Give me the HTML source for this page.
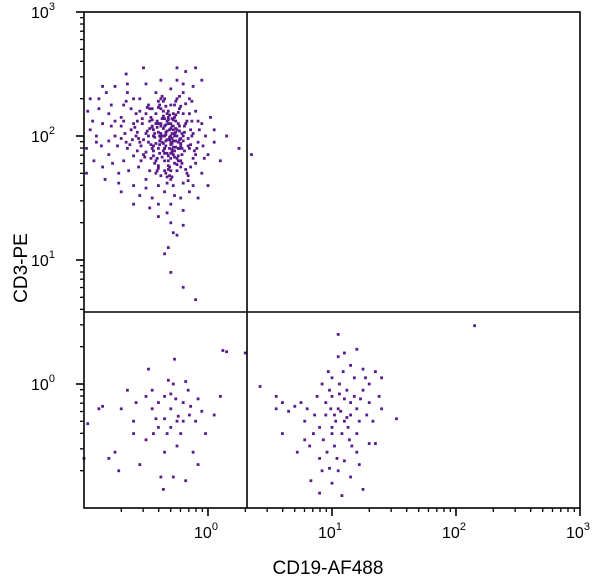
<!DOCTYPE html>
<html><head><meta charset="utf-8"><style>
html,body{margin:0;padding:0;background:#fff;}
svg{display:block;font-family:"Liberation Sans",sans-serif;}
</style></head><body>
<svg id="chart" width="600" height="585" viewBox="0 0 600 585" xmlns="http://www.w3.org/2000/svg">
<g id="ticks"></g>
<g id="dots"></g>
<rect x="84" y="12" width="496" height="496" fill="none" stroke="#000" stroke-width="1.6"/>
<line x1="247" y1="12" x2="247" y2="508" stroke="#000" stroke-width="1.6"/>
<line x1="84" y1="312" x2="580" y2="312" stroke="#000" stroke-width="1.6"/>
<g id="labels"></g>
<text x="328" y="574" font-size="19" text-anchor="middle">CD19-AF488</text>
<text x="0" y="0" font-size="19" text-anchor="middle" transform="translate(27,268) rotate(-90)">CD3-PE</text>
</svg>
<script>
const xDecades = [0, 1, 2, 3];
const yDecades = [0, 1, 2, 3];
// log10 CD19 / log10 CD3 per population
const cd3Pos = [[-0.35,2.0],[-0.3,1.95],[-0.4,2.1],[-0.25,2.05],[-0.45,1.9],[-0.32,2.2],[-0.28,1.85],[-0.38,1.98],[-0.22,1.92],[-0.5,2.02],
[-0.33,2.12],[-0.27,2.15],[-0.42,1.8],[-0.36,1.88],[-0.2,2.0],[-0.31,1.75],[-0.46,2.15],[-0.24,1.8],[-0.39,2.25],[-0.29,2.08],
[-0.55,1.95],[-0.6,2.1],[-0.18,2.1],[-0.15,1.9],[-0.34,1.7],[-0.26,2.28],[-0.44,2.05],[-0.52,1.85],[-0.21,1.78],[-0.37,2.32],
[-0.3,1.65],[-0.41,1.72],[-0.23,2.22],[-0.48,2.25],[-0.12,2.02],[-0.1,1.85],[-0.17,1.7],[-0.58,2.0],[-0.65,1.9],[-0.7,2.15],
[-0.62,2.22],[-0.75,2.0],[-0.8,1.85],[-0.85,2.1],[-0.9,1.95],[-0.95,2.05],[-0.88,2.3],[-0.78,2.25],[-0.68,1.8],[-0.72,1.7],
[-0.56,1.75],[-0.5,1.65],[-0.4,1.6],[-0.35,1.55],[-0.28,1.6],[-0.2,1.62],[-0.14,1.75],[-0.08,1.95],[-0.05,2.1],[-0.1,2.2],
[-0.15,2.3],[-0.2,2.35],[-0.3,2.38],[-0.42,2.35],[-0.55,2.3],[-0.65,2.35],[-0.75,2.4],[-0.6,1.6],[-0.7,1.55],[-0.45,1.5],
[-0.3,1.45],[-0.22,1.5],[-0.15,1.55],[-0.05,1.7],[0.0,1.85],[-0.02,2.0],[0.02,2.15],[-0.12,2.4],[-0.25,2.45],[-0.38,2.45],
[-0.5,2.42],[-0.85,1.75],[-0.92,1.8],[-0.98,1.9],[-0.97,2.2],[-0.82,2.35],[-0.66,2.5],[-0.52,2.55],[-0.25,2.55],[-0.1,2.55],
[-0.18,2.52],[-0.05,2.45],[0.05,1.95],[0.1,1.8],[0.25,1.9],[0.35,1.85],[0.0,1.6],[-0.08,1.5],[-0.2,1.4],[-0.33,1.38],
[-0.47,1.42],[-0.6,1.45],[-0.3,1.3],[-0.25,1.2],[-0.32,1.1],[-0.3,0.9],[-0.2,0.78],[-0.35,1.05],[-0.28,1.22],[-0.4,1.35],
[-0.33,1.97],[-0.29,2.02],[-0.36,2.06],[-0.31,1.9],[-0.26,1.96],[-0.39,1.93],[-0.34,2.09],[-0.24,2.1],[-0.43,1.99],[-0.27,1.88],
[-0.37,1.83],[-0.32,2.15],[-0.22,1.98],[-0.45,2.08],[-0.3,2.25],[-0.4,1.76],[-0.19,1.88],[-0.35,1.8],[-0.28,2.18],[-0.48,1.95],
[-0.25,1.72],[-0.42,2.18],[-0.34,1.92],[-0.2,2.18],[-0.38,2.02],[-0.3,1.82],[-0.46,1.82],[-0.23,2.04],[-0.27,1.78],[-0.4,2.28],
[-0.53,2.1],[-0.57,1.88],[-0.16,1.98],[-0.13,2.12],[-0.33,1.62],[-0.36,2.2],[-0.47,1.72],[-0.21,1.85],[-0.31,2.05],[-0.26,2.12],
[-0.44,1.88],[-0.29,1.94],[-0.35,2.14],[-0.39,1.86],[-0.24,1.9],[-0.32,1.76],[-0.5,2.18],[-0.18,2.26],[-0.41,2.12],[-0.27,2.02],
[-0.62,2.05],[-0.66,1.95],[-0.58,2.18],[-0.54,1.8],[-0.7,2.08],[-0.73,1.92],[-0.64,1.72],[-0.8,2.18],[-0.77,1.78],[-0.86,1.92],
[-0.93,2.12],[-0.6,2.3],[-0.5,1.58],[-0.38,1.68],[-0.16,1.64],[-0.1,1.78],[-0.07,2.05],[-0.13,2.28],[-0.23,2.32],[-0.35,2.3],
[-0.45,2.22],[-0.55,2.2],[-0.68,2.25],[-0.72,1.62],[-0.83,1.65],[-0.9,2.0],[-0.98,1.7],[-0.95,2.3],[-0.85,2.4],[-0.2,2.42],
[-0.03,1.82],[0.05,2.05],[-0.12,1.6],[-0.4,1.45],[-0.55,1.52],[-0.27,1.52],[0.15,2.0],[-0.65,2.42],[-0.78,2.08],[-0.88,2.22],
[-0.31,1.99],[-0.34,2.03],[-0.28,1.91],[-0.37,1.95],[-0.25,2.0],[-0.3,2.1],[-0.33,1.86],[-0.4,2.03],[-0.22,1.94],[-0.36,2.16],
[-0.29,1.98],[-0.42,1.94],[-0.26,2.06],[-0.32,1.8],[-0.38,2.1],[-0.24,1.84],[-0.44,2.0],[-0.3,2.0],[-0.35,1.9],[-0.28,2.08],
[-0.1,0.68],[-0.2,1.28],
[-0.34,1.96],[-0.29,1.89],[-0.41,2.07],[-0.23,1.97],[-0.46,1.93],[-0.31,2.17],[-0.27,1.83],[-0.37,2.0],[-0.21,1.9],[-0.49,2.04],
[-0.32,2.1],[-0.26,2.17],[-0.43,1.78],[-0.35,1.86],[-0.19,2.03],[-0.3,1.72],[-0.47,2.12],[-0.25,1.77],[-0.38,2.22],[-0.28,2.05],
[-0.54,1.92],[-0.59,2.07],[-0.17,2.12],[-0.14,1.93],[-0.33,1.67],[-0.27,2.25],[-0.43,2.02],[-0.51,1.83],[-0.22,1.75],[-0.36,2.28],
[-0.31,1.68],[-0.42,1.7],[-0.24,2.19],[-0.47,2.22],[-0.13,2.0],[-0.11,1.88],[-0.18,1.73],[-0.57,2.03],[-0.63,1.93],[-0.68,2.12],
[-0.34,2.01],[-0.3,1.93],[-0.38,2.08],[-0.26,2.03],[-0.44,1.92],[-0.33,2.18],[-0.29,1.87],[-0.39,1.96],[-0.23,1.9],[-0.48,2.0],
[-0.32,2.13],[-0.28,2.13],[-0.41,1.82],[-0.35,1.9],[-0.21,2.02],[-0.32,1.73],[-0.45,2.13],[-0.25,1.82],[-0.4,2.23],[-0.3,2.06],
[-0.52,1.97],[-0.57,2.12],[-0.19,2.08],[-0.16,1.92],[-0.35,1.72],[-0.25,2.3],[-0.45,2.07],[-0.5,1.87],[-0.22,1.8],[-0.38,2.3],
[-0.29,1.67],[-0.4,1.74],[-0.22,2.24],[-0.49,2.23],[-0.14,2.05],[-0.09,1.9],[-0.16,1.68],[-0.56,1.98],[-0.61,1.97],[-0.67,2.02],
[-0.36,1.94],[-0.31,1.97],[-0.27,2.0],[-0.33,2.04],[-0.39,2.0],[-0.24,1.95],[-0.42,2.1],[-0.3,1.86],[-0.35,2.08],[-0.28,1.96],
[-0.2,1.96],[-0.44,1.84],[-0.37,2.14],[-0.26,1.91],[-0.32,1.84],[-0.47,2.06],[-0.23,2.08],[-0.34,2.24],[-0.4,1.9],[-0.29,2.14],
[-0.15,2.18],[-0.53,2.14],[-0.6,1.84],[-0.12,1.82],[-0.7,1.98],[-0.75,2.12],[-0.8,1.96],[-0.08,2.12],[-0.04,1.92],[-0.66,2.28]];
const doubleNeg = [[-0.3,-0.2],[-0.25,-0.3],[-0.35,-0.1],[-0.2,-0.15],[-0.4,-0.35],[-0.15,-0.25],[-0.28,0.0],[-0.32,0.03],[-0.45,-0.2],[-0.5,-0.45],
[-0.6,-0.3],[-0.7,-0.2],[-0.75,-0.55],[-0.8,-0.6],[-0.72,-0.7],[-0.55,-0.65],[-0.58,-0.15],[-0.38,-0.75],[-0.36,-0.85],[-0.28,-0.75],
[-0.18,-0.78],[-0.12,-0.55],[-0.1,-0.3],[-0.05,-0.22],[-0.02,-0.4],[0.05,-0.25],[0.1,-0.1],[-0.08,-0.12],[-0.18,0.02],[-0.27,0.2],
[-0.48,0.12],[-0.65,-0.05],[-0.85,-0.18],[-0.88,-0.2],[-0.97,-0.32],[-1.0,-0.6],[-0.3,-0.35],[-0.24,-0.26],[-0.33,-0.4],[-0.4,-0.15],
[-0.22,-0.4],[-0.14,-0.18],[-0.3,-0.08],[-0.42,-0.28],[-0.35,-0.28],[-0.26,-0.12],[-0.2,-0.3],[-0.16,-0.05],[-0.44,-0.4],[-0.5,-0.1],
[-0.6,-0.4],[-0.08,-0.65],[-0.35,-0.55],[-0.25,-0.5],[-0.45,-0.05]];
const cd19Pos = [[1.05,-0.2],[1.1,-0.3],[1.0,-0.1],[1.15,-0.15],[0.95,-0.25],[1.08,-0.4],[1.02,-0.5],[1.12,-0.05],[1.2,-0.2],[0.9,-0.35],
[1.06,0.0],[1.0,0.05],[0.98,-0.05],[1.18,0.05],[1.25,-0.05],[1.3,0.0],[1.22,-0.3],[1.14,-0.45],[1.04,-0.6],[0.96,-0.55],
[0.92,-0.7],[0.85,-0.4],[0.8,-0.2],[0.78,-0.3],[0.75,-0.15],[0.7,-0.18],[0.65,-0.22],[0.6,-0.4],[0.6,-0.15],[0.55,-0.1],
[0.42,-0.02],[0.55,-0.2],[0.3,0.25],[0.12,0.27],[0.15,0.26],[1.0,-0.8],[1.08,-0.9],[1.15,-0.75],[1.25,-0.85],[0.9,-0.88],
[0.83,-0.78],[0.98,-0.68],[1.1,-0.62],[1.2,-0.55],[1.3,-0.48],[1.35,-0.48],[1.2,-0.4],[1.28,-0.25],[1.38,-0.1],[1.4,0.05],
[1.35,0.1],[1.25,0.12],[1.15,0.15],[1.1,0.25],[1.05,0.22],[1.2,0.28],[1.05,0.4],[1.52,-0.28],[2.15,0.47],[1.3,-0.15],
[1.03,-0.3],[1.07,-0.22],[1.13,-0.35],[1.0,-0.4],[0.95,-0.15],[1.18,-0.1],[1.1,-0.12],[1.02,-0.25],[0.88,-0.1],[0.86,-0.25],
[0.93,-0.45],[1.16,-0.5],[1.23,-0.12],[1.06,-0.08],[0.99,-0.2],[1.12,-0.27],[1.09,0.1],[0.97,0.1],[1.27,0.05],[0.82,-0.5],
[0.78,-0.45],[1.05,-0.7],[1.22,-0.65],[0.92,0.0],[1.33,-0.3],[1.0,-0.35],[1.15,-0.25],[0.9,-0.6],[1.4,-0.2],[0.72,-0.55]];

const NS = 'http://www.w3.org/2000/svg';
const L = 84, R = 580, T = 12, B = 508, DEC = 124, MIN = -1;
function sx(e){ return L + (e - MIN) * DEC; }
function sy(e){ return B - (e - MIN) * DEC; }
function mk(tag, attrs, parent){ const el = document.createElementNS(NS, tag); for (const k in attrs) el.setAttribute(k, attrs[k]); parent.appendChild(el); return el; }

const dots = document.getElementById('dots');
[cd3Pos, doubleNeg, cd19Pos].forEach(pop => {
  pop.forEach(p => {
    const r = mk('rect', {x: sx(p[0]) - 1.4, y: sy(p[1]) - 1.4, width: 2.8, height: 2.8, fill: '#5a1a8c'}, dots);
    
    
  });
});

const ticks = document.getElementById('ticks');
for (let d = -1; d < 3; d++) {
  for (let m = 2; m <= 9; m++) {
    const e = d + Math.log10(m);
    const tx = mk('line', {x1: sx(e), x2: sx(e), y1: B, y2: B + 4, stroke: '#000', 'stroke-width': 1.3}, ticks);
    
    
    const ty = mk('line', {x1: L - 4, x2: L, y1: sy(e), y2: sy(e), stroke: '#000', 'stroke-width': 1.3}, ticks);
    
    
  }
}
const labels = document.getElementById('labels');
xDecades.forEach(d => {
  const t = mk('line', {x1: sx(d), x2: sx(d), y1: B, y2: B + 8, stroke: '#000', 'stroke-width': 1.6}, ticks);
  
  
  const tx = mk('text', {x: sx(d) - 2, y: B + 30, 'font-size': 16, 'text-anchor': 'middle'}, labels);
  
  
  tx.innerHTML = '10<tspan dy="-8" font-size="11">' + d + '</tspan>';
});
yDecades.forEach(d => {
  const t = mk('line', {x1: L - 8, x2: L, y1: sy(d), y2: sy(d), stroke: '#000', 'stroke-width': 1.6}, ticks);
  
  
  const tx = mk('text', {x: 43, y: sy(d) + 6, 'font-size': 16, 'text-anchor': 'middle'}, labels);
  
  
  tx.innerHTML = '10<tspan dy="-8" font-size="11">' + d + '</tspan>';
});
</script>
</body></html>
